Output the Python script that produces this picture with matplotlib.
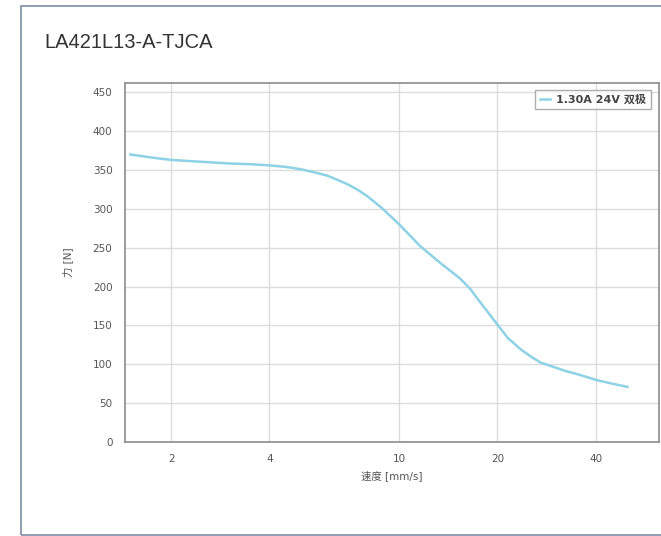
import matplotlib.pyplot as plt
from matplotlib.patches import Rectangle
from matplotlib.ticker import FixedLocator, NullLocator, FixedFormatter

# data
speed = [1.5, 1.75, 2, 2.5, 3, 3.5, 4, 4.5, 5, 5.5, 6, 6.5, 7, 7.5, 8, 8.8, 10,
         11.6, 13.4, 15.4, 16.5, 17.4, 18.7, 20, 21.5, 23.6, 25.5, 27.2, 30, 32,
         36, 40, 45, 50]
force = [370, 366, 363, 360.5, 358.5, 357.5, 356, 354, 351, 347, 343, 337, 331, 324,
         316, 302, 280, 252, 230, 210, 197, 184, 167, 151, 134, 119, 109, 102, 96, 92,
         86, 80, 75, 71]

x_ticks = [2, 4, 10, 20, 40]
y_ticks = [0, 50, 100, 150, 200, 250, 300, 350, 400, 450]
series_label = "1.30A 24V 双极"

plt.rcParams['font.family'] = ['DejaVu Sans', 'Noto Sans CJK SC']

fig = plt.figure(figsize=(6.61, 5.36), dpi=100)

# outer card border
fig.patches.append(Rectangle((21 / 661, 1 - 535 / 536), 1.0, (535 - 6) / 536,
                             transform=fig.transFigure, fill=False,
                             edgecolor='#8796aa', linewidth=1.3))

fig.text(44 / 661, 1 - 42 / 536, "LA421L13-A-TJCA", family='Liberation Sans',
         fontsize=14.5, color='#333333', va='center', ha='left')

ax = fig.add_axes([125 / 661, 1 - 442 / 536, (659 - 125) / 661, (442 - 83) / 536])
ax.plot(speed, force, color='#8dd2e6', linewidth=1.8, label=series_label,
        solid_joinstyle='round')

ax.set_xscale('log')
ax.set_xlim(1.445, 62.5)
ax.set_ylim(0, 462)
ax.xaxis.set_major_locator(FixedLocator(x_ticks))
ax.xaxis.set_major_formatter(FixedFormatter([str(t) for t in x_ticks]))
ax.xaxis.set_minor_locator(NullLocator())
ax.set_yticks(y_ticks)

ax.grid(True, color='#dcdcdc', linewidth=1.0)
ax.set_axisbelow(True)
ax.tick_params(length=0, labelsize=7.5, labelcolor='#555555', pad=9)
for s in ax.spines.values():
    s.set_color('#8c8c8c')
    s.set_linewidth(1.2)

ax.set_xlabel("速度 [mm/s]", fontsize=7.5, color='#555555', labelpad=4)
ax.set_ylabel("力 [N]", fontsize=7.5, color='#555555', labelpad=14)

leg = ax.legend(loc='upper right', frameon=True, fancybox=False,
                handlelength=0.9, handletextpad=0.6, borderpad=0.4,
                bbox_to_anchor=(0.995, 0.997), prop={'weight': 'bold', 'size': 8})
leg.get_frame().set_edgecolor('#999999')
leg.get_frame().set_linewidth(1.0)
for t in leg.get_texts():
    t.set_color('#444444')

fig.savefig("out.png", dpi=100)
